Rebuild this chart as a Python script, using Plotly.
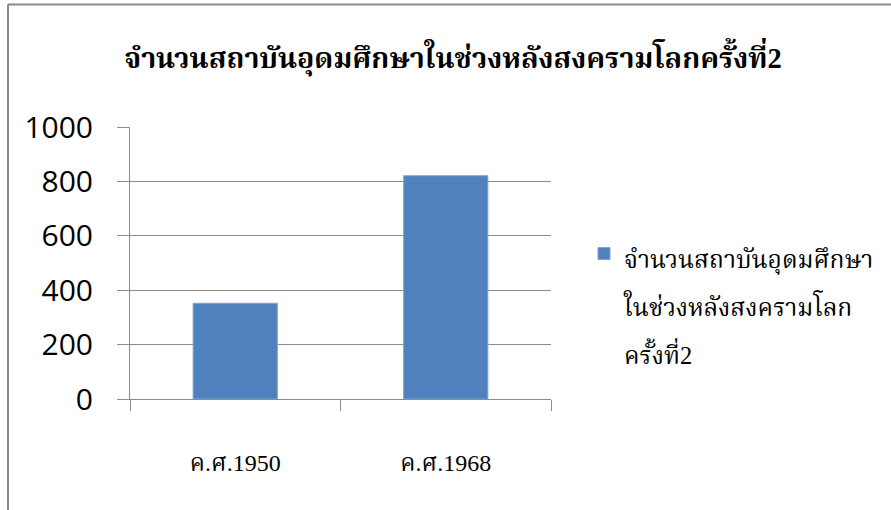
import plotly.graph_objects as go

categories = ["ค.ศ.1950", "ค.ศ.1968"]
values = [352, 821]
legend_lines = ["จำนวนสถาบันอุดมศึกษา", "ในช่วงหลังสงครามโลก", "ครั้งที่2"]
title_text = "จำนวนสถาบันอุดมศึกษาในช่วงหลังสงครามโลกครั้งที่2"
y_ticks = [0, 200, 400, 600, 800, 1000]

W, H = 891, 510
L, R, T, B = 130, 551, 127, 399

def px_x(p):
    return (p - L) / (R - L)

def px_y(p):
    return (B - p) / (B - T)

series_name = "<br>".join('<span style="font-size:24.5px">%s</span>' % s for s in legend_lines)

fig = go.Figure()
fig.add_trace(go.Bar(
    x=categories, y=values, name=series_name,
    marker=dict(color="#4F81BD", line=dict(color="#7FA3D1", width=1)),
    width=0.4, showlegend=True,
))

grid = "#8c8c8c"
thai = "Liberation Serif, Noto Serif Thai, Noto Sans Thai, serif"
fig.update_layout(
    width=W, height=H,
    margin=dict(l=L, r=W - R, t=T, b=H - B, pad=0, autoexpand=False),
    paper_bgcolor="white", plot_bgcolor="white",
    title=dict(text=title_text, x=px_x(453), xref="paper", xanchor="center",
               y=1 - 58 / H, yref="container", yanchor="middle",
               font=dict(family=thai, size=28.5, color="black", weight="bold")),
    showlegend=True,
    legend=dict(x=px_x(584), y=px_y(223), xanchor="left", yanchor="top", valign="top",
                font=dict(family=thai, size=37, color="black"),
                bgcolor="rgba(0,0,0,0)", itemwidth=30),
    xaxis=dict(showline=True, linecolor=grid, linewidth=1, ticks="outside", tickson="boundaries",
               ticklen=11, tickcolor=grid, tickwidth=1, showgrid=False,
               tickfont=dict(family=thai, size=24, color="black"),
               ticklabelstandoff=42),
    yaxis=dict(range=[0, 1000], tickvals=y_ticks, showline=True, linecolor=grid, linewidth=1,
               ticks="outside", ticklen=12, tickcolor=grid, tickwidth=1,
               showgrid=True, gridcolor=grid, gridwidth=1, zeroline=False,
               tickfont=dict(family="Open Sans, Noto Sans, sans-serif", size=30, color="black"),
               ticklabelstandoff=18),
    shapes=[
        dict(type="line", xref="paper", yref="paper", x0=px_x(8), x1=px_x(8), y0=px_y(4.5), y1=px_y(520),
             line=dict(color="#8a8a8a", width=2)),
        dict(type="line", xref="paper", yref="paper", x0=px_x(8), x1=px_x(900), y0=px_y(4.5), y1=px_y(4.5),
             line=dict(color="#8a8a8a", width=2)),
    ],
)

fig.write_html("out.html", config={"displayModeBar": False},
               post_script="document.body.style.margin='0';document.body.style.overflow='hidden';")
